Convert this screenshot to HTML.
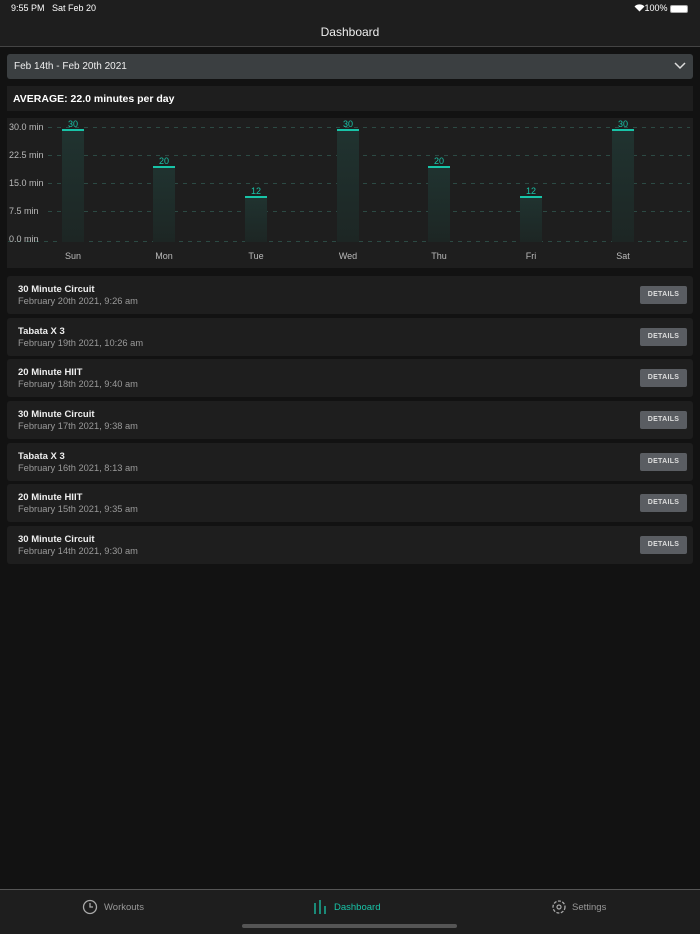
<!DOCTYPE html><html><head><style>
*{margin:0;padding:0;box-sizing:border-box}
body{width:700px;height:934px;background:#121212;font-family:"Liberation Sans",sans-serif;color:#fff;position:relative;overflow:hidden}
.a{position:absolute}
.row{position:absolute;left:7px;width:686px;height:38px;background:#1e1e1e;border-radius:3px}
.row .t{position:absolute;left:11px;top:8px;font-size:9.5px;font-weight:bold;color:#eee}
.row .d{position:absolute;left:11px;top:20px;font-size:9.3px;color:#9a9a9a}
.row .b{position:absolute;right:6px;top:10px;width:47px;height:18px;background:#5a5d62;border-radius:2px;font-size:7px;font-weight:bold;color:#ddd;text-align:center;line-height:18px;letter-spacing:.3px}
.yl{position:absolute;left:9px;font-size:9px;color:#bbb}
.xl{position:absolute;top:251px;font-size:9px;color:#bbb;width:40px;text-align:center}
.bar{position:absolute;width:22px;background:linear-gradient(#203330,#1d2624)}
.bar i{position:absolute;left:0;top:0;width:22px;height:2px;background:#18c4a8}
.bar s{position:absolute;left:0;top:-10px;width:22px;text-align:center;font-size:9px;color:#18c4a8;text-decoration:none}
</style></head><body>
<div class="a" style="left:0;top:0;width:700px;height:47px;background:#1e1e1e;border-bottom:1px solid #444"></div>
<div class="a" style="left:11px;top:3px;font-size:9px">9:55 PM &nbsp; Sat Feb 20</div>
<svg class="a" style="left:634px;top:4px" width="11" height="8"><path d="M5.5 7.5L0.5 2.5A7 7 0 0 1 10.5 2.5Z" fill="#fff"/></svg>
<div class="a" style="right:12px;top:3px;font-size:9px">100% <span style="display:inline-block;width:18px;height:8px;border:1px solid #aaa;border-radius:2px;vertical-align:middle;background:#fff"></span></div>
<div class="a" style="left:0;width:700px;top:25px;text-align:center;font-size:12px;color:#eee">Dashboard</div>
<div class="a" style="left:7px;top:54px;width:686px;height:25px;background:#3b3f41;border-radius:3px"></div>
<div class="a" style="left:14px;top:61px;font-size:10px;color:#eee">Feb 14th - Feb 20th 2021</div>
<svg class="a" style="left:674px;top:62px" width="12" height="8"><path d="M1 1l5 5 5-5" stroke="#ddd" stroke-width="1.5" fill="none"/></svg>
<div class="a" style="left:7px;top:86px;width:686px;height:25px;background:#1e1e1e"></div>
<div class="a" style="left:13px;top:93px;font-size:10.5px;font-weight:bold">AVERAGE: 22.0 minutes per day</div>
<div class="a" style="left:7px;top:118px;width:686px;height:150px;background:#1e1e1e"></div>
<svg class="a" style="left:0;top:0" width="700" height="270">
<g stroke="#2c4a44" stroke-dasharray="4 5" stroke-width="1">
<line x1="48" x2="690" y1="127.5" y2="127.5"/><line x1="48" x2="690" y1="155.5" y2="155.5"/><line x1="48" x2="690" y1="183.5" y2="183.5"/><line x1="48" x2="690" y1="211.5" y2="211.5"/><line x1="8" x2="690" y1="241.5" y2="241.5"/></g></svg>
<div class="yl" style="top:122px">30.0 min</div><div class="yl" style="top:150px">22.5 min</div><div class="yl" style="top:178px">15.0 min</div><div class="yl" style="top:206px">7.5 min</div><div class="yl" style="top:234px">0.0 min</div>
<div class="bar" style="left:62px;top:129px;height:113px"><s>30</s><i></i></div>
<div class="bar" style="left:153px;top:166px;height:76px"><s>20</s><i></i></div>
<div class="bar" style="left:245px;top:196px;height:46px"><s>12</s><i></i></div>
<div class="bar" style="left:337px;top:129px;height:113px"><s>30</s><i></i></div>
<div class="bar" style="left:428px;top:166px;height:76px"><s>20</s><i></i></div>
<div class="bar" style="left:520px;top:196px;height:46px"><s>12</s><i></i></div>
<div class="bar" style="left:612px;top:129px;height:113px"><s>30</s><i></i></div>
<div class="xl" style="left:53px">Sun</div><div class="xl" style="left:144px">Mon</div><div class="xl" style="left:236px">Tue</div><div class="xl" style="left:328px">Wed</div><div class="xl" style="left:419px">Thu</div><div class="xl" style="left:511px">Fri</div><div class="xl" style="left:603px">Sat</div>
<div class="row" style="top:276px"><div class="t">30 Minute Circuit</div><div class="d">February 20th 2021, 9:26 am</div><div class="b">DETAILS</div></div>
<div class="row" style="top:318px"><div class="t">Tabata X 3</div><div class="d">February 19th 2021, 10:26 am</div><div class="b">DETAILS</div></div>
<div class="row" style="top:359px"><div class="t">20 Minute HIIT</div><div class="d">February 18th 2021, 9:40 am</div><div class="b">DETAILS</div></div>
<div class="row" style="top:401px"><div class="t">30 Minute Circuit</div><div class="d">February 17th 2021, 9:38 am</div><div class="b">DETAILS</div></div>
<div class="row" style="top:443px"><div class="t">Tabata X 3</div><div class="d">February 16th 2021, 8:13 am</div><div class="b">DETAILS</div></div>
<div class="row" style="top:484px"><div class="t">20 Minute HIIT</div><div class="d">February 15th 2021, 9:35 am</div><div class="b">DETAILS</div></div>
<div class="row" style="top:526px"><div class="t">30 Minute Circuit</div><div class="d">February 14th 2021, 9:30 am</div><div class="b">DETAILS</div></div>
<div class="a" style="left:0;top:889px;width:700px;height:45px;background:#1e1e1e;border-top:1px solid #555"></div>
<svg class="a" style="left:82px;top:899px" width="16" height="16"><circle cx="8" cy="8" r="6.5" stroke="#aaa" stroke-width="1.3" fill="none"/><path d="M8 4v4h3" stroke="#aaa" stroke-width="1.3" fill="none"/></svg>
<div class="a" style="left:104px;top:902px;font-size:9.5px;color:#999">Workouts</div>
<svg class="a" style="left:313px;top:899px" width="14" height="16"><path d="M2 4v11M7 1v14M12 7v8" stroke="#18c4a8" stroke-width="1.3"/></svg>
<div class="a" style="left:334px;top:902px;font-size:9.5px;color:#18c4a8">Dashboard</div>
<svg class="a" style="left:551px;top:899px" width="16" height="16"><circle cx="8" cy="8" r="6" stroke="#aaa" stroke-width="1.3" fill="none" stroke-dasharray="3 1.5"/><circle cx="8" cy="8" r="2" stroke="#aaa" stroke-width="1.2" fill="none"/></svg>
<div class="a" style="left:572px;top:902px;font-size:9.5px;color:#999">Settings</div>
<div class="a" style="left:242px;top:924px;width:215px;height:4px;border-radius:2px;background:#555"></div>
</body></html>
